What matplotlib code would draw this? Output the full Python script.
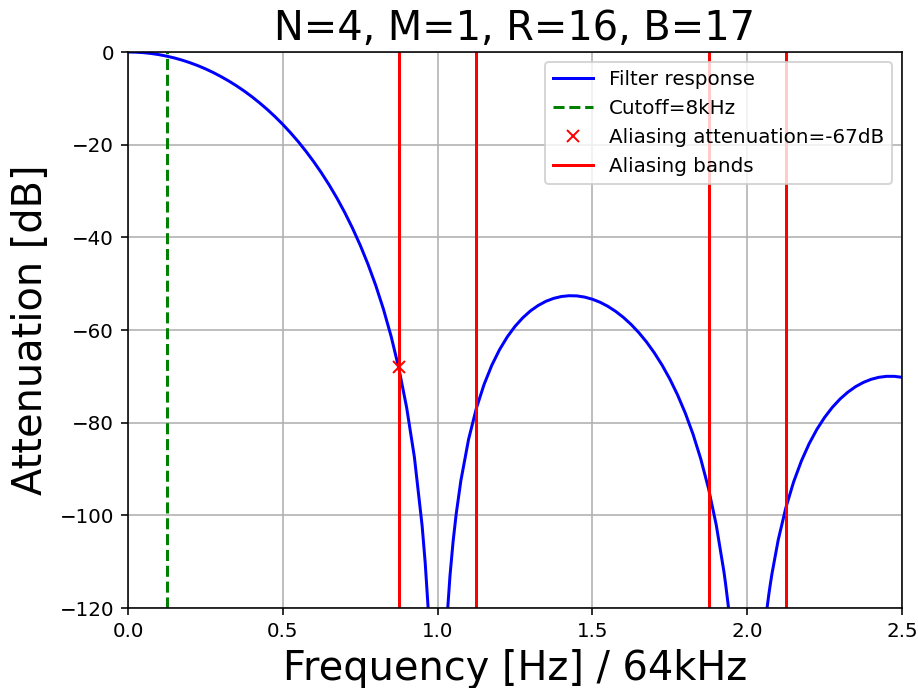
import matplotlib
matplotlib.use("Agg")
import matplotlib.pyplot as plt

# Filter response (normalised frequency, attenuation dB)
freq = [0.0, 0.025, 0.05, 0.075, 0.1, 0.125, 0.15, 0.175, 0.2, 0.225, 0.25,
        0.275, 0.3, 0.325, 0.35, 0.375, 0.4, 0.425, 0.45, 0.475, 0.5, 0.525,
        0.55, 0.575, 0.6, 0.625, 0.65, 0.675, 0.7, 0.725, 0.75, 0.775, 0.8,
        0.825, 0.85, 0.875, 0.9, 0.925, 0.95, 0.96, 0.97, 0.975, 0.98, 0.99,
        1.01, 1.02, 1.025, 1.03, 1.04, 1.05, 1.06, 1.075, 1.1, 1.125, 1.15,
        1.175, 1.2, 1.225, 1.25, 1.275, 1.3, 1.325, 1.35, 1.375, 1.4, 1.425,
        1.45, 1.475, 1.5, 1.525, 1.55, 1.575, 1.6, 1.625, 1.65, 1.675, 1.7,
        1.725, 1.75, 1.775, 1.8, 1.825, 1.85, 1.875, 1.9, 1.925, 1.93, 1.94,
        1.95, 1.97, 1.99, 2.01, 2.03, 2.05, 2.06, 2.07, 2.075, 2.08, 2.1,
        2.125, 2.15, 2.175, 2.2, 2.225, 2.25, 2.275, 2.3, 2.325, 2.35, 2.375,
        2.4, 2.425, 2.45, 2.475, 2.5]
atten = [0.0, -0.04, -0.14, -0.32, -0.57, -0.90, -1.29, -1.76, -2.31, -2.93,
         -3.63, -4.42, -5.29, -6.24, -7.28, -8.41, -9.64, -10.98, -12.41,
         -13.96, -15.63, -17.43, -19.36, -21.45, -23.69, -26.11, -28.72,
         -31.55, -34.63, -38.00, -41.69, -45.78, -50.34, -55.49, -61.40,
         -68.33, -76.73, -87.42, -102.24, -110.30, -120.6, -127.11, -135.0,
         -159.4, -160.1, -136.4, -128.82, -122.7, -113.05, -105.67, -99.73,
         -92.57, -83.61, -76.95, -71.77, -67.62, -64.25, -61.49, -59.22,
         -57.37, -55.87, -54.70, -53.80, -53.17, -52.77, -52.60, -52.64,
         -52.90, -53.36, -54.02, -54.89, -55.97, -57.27, -58.80, -60.57,
         -62.60, -64.93, -67.57, -70.57, -74.00, -77.93, -82.48, -87.82,
         -94.20, -102.07, -112.24, -114.69, -120.14, -126.58, -144.57,
         -183.0, -183.4, -145.56, -128.23, -122.12, -116.99, -114.72, -112.60,
         -105.36, -98.32, -92.77, -88.27, -84.55, -81.45, -78.86, -76.69,
         -74.89, -73.42, -72.23, -71.32, -70.65, -70.21, -70.00, -70.00,
         -70.21]

cutoff = 0.125
alias_bands = [0.875, 1.125, 1.875, 2.125]
alias_point_f = 0.875
alias_point_db = -68.0

title = "N=4, M=1, R=16, B=17"

dpi = 143.44
fig = plt.figure(figsize=(918 / dpi, 688 / dpi), dpi=dpi)
ax = fig.add_axes([128 / 918, 1 - 608 / 688, (902 - 128) / 918, (608 - 52) / 688])

ax.plot(freq, atten, color="blue", lw=1.5, label="Filter response")
ax.axvline(cutoff, color="green", ls="--", lw=1.5, label="Cutoff=8kHz")
ax.plot([alias_point_f], [alias_point_db], "x", color="red", ms=6,
        label="Aliasing attenuation=-67dB")
for i, b in enumerate(alias_bands):
    ax.axvline(b, color="red", lw=1.5, label="Aliasing bands" if i == 0 else None)

ax.set_xlim(0, 2.5)
ax.set_ylim(-120, 0)
ax.set_xticks([0.0, 0.5, 1.0, 1.5, 2.0, 2.5])
ax.set_yticks([0, -20, -40, -60, -80, -100, -120])
ax.grid(True, color="#b0b0b0", lw=0.8)
ax.tick_params(labelsize=10)
ax.set_title(title, fontsize=20)
ax.set_xlabel("Frequency [Hz] / 64kHz", fontsize=20)
ax.set_ylabel("Attenuation [dB]", fontsize=20)
ax.legend(loc="upper right", fontsize=10)

fig.savefig("out.png", dpi=dpi)
